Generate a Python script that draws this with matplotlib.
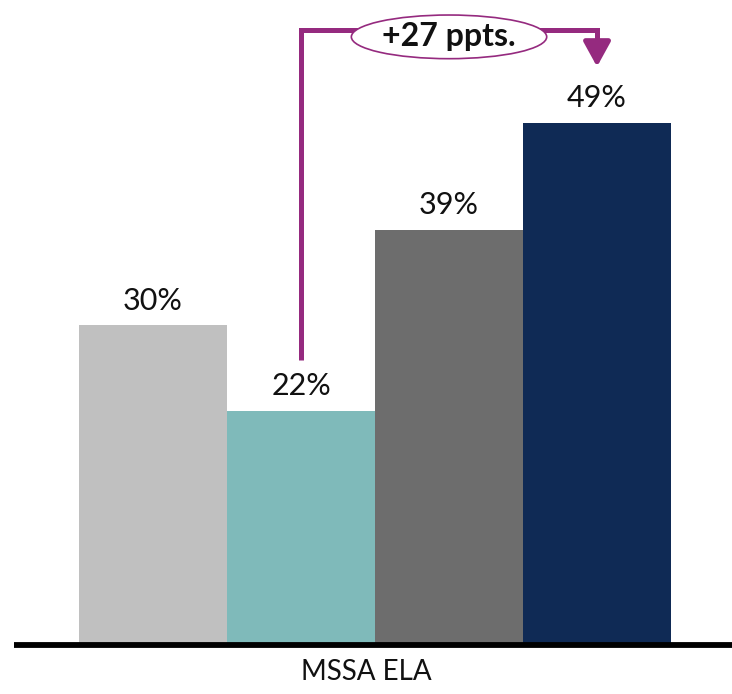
import matplotlib
matplotlib.use("Agg")
import matplotlib.pyplot as plt
from matplotlib.patches import Ellipse

plt.rcParams['font.family'] = ['Lato', 'DejaVu Sans']

# bar data
groups = ["g1", "g2", "g3", "g4"]
values = [30, 22, 39, 49]
labels = ["30%", "22%", "39%", "49%"]
colors = ["#c0c0c0", "#7fbaba", "#6d6d6d", "#0f2a55"]
category = "MSSA ELA"
change_text = "+27 ppts."
purple = "#952a7f"

fig = plt.figure(figsize=(7.32, 6.94), dpi=100)
ax = fig.add_axes([0, 0, 1, 1])
ax.set_xlim(-1.034, 3.912)
ax.set_ylim(-4.6, 60.56)
ax.axis("off")

xs = list(range(len(values)))
ax.bar(xs, values, width=1.0, color=colors, linewidth=0)

for x, v, lab in zip(xs, values, labels):
    ax.text(x, v + 1.0, lab, ha="center", va="bottom", fontsize=22, color="#111111")

# baseline
ax.axhline(0, xmin=14 / 732, xmax=1, color="black", lw=4.2, solid_capstyle="butt")

# category label
fig.text(0.5, (694 - 672) / 694, category, ha="center", va="center", fontsize=20, color="#111111")

# change bracket from bar 2 to bar 4
y_start = values[1] + 4.8
y_top = values[3] + 8.7
y_tip = values[3] + 5.3
ax.plot([1, 1, 3, 3], [y_start, y_top, y_top, y_top - 1.5], color=purple, lw=3.6,
        solid_joinstyle="miter", solid_capstyle="butt")
ax.annotate("", xy=(3, y_tip), xytext=(3, y_top - 1.0),
            arrowprops=dict(arrowstyle="-|>,head_width=0.55,head_length=1.0",
                            mutation_scale=15, color=purple, lw=3.6, shrinkA=0, shrinkB=0))

ell = Ellipse((2.0, y_top - 0.6), width=1.32, height=4.1, facecolor="white",
              edgecolor=purple, lw=1.2, zorder=5)
ax.add_patch(ell)
ax.text(2.0, y_top - 0.6, change_text, ha="center", va="center", fontsize=23,
        fontweight="bold", color="#111111", zorder=6)

fig.savefig("out.png", dpi=100)
